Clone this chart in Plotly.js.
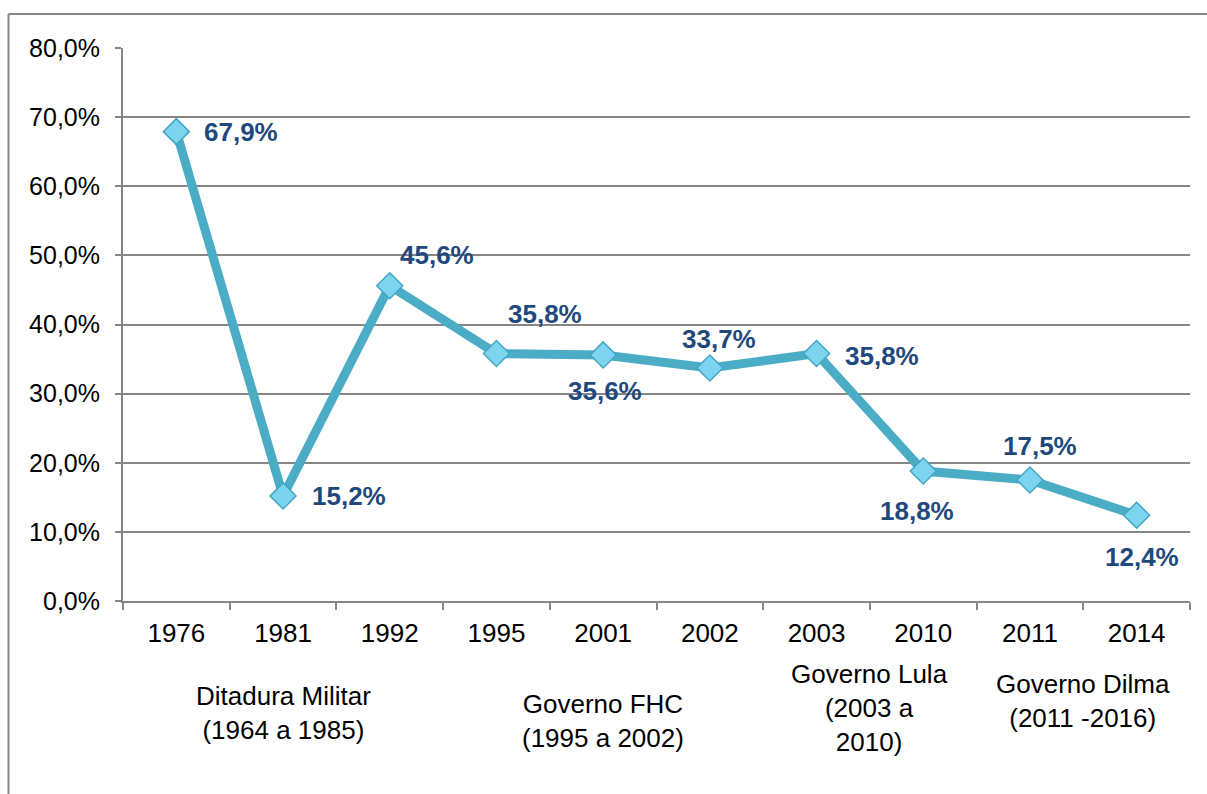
<!DOCTYPE html>
<html>
<head>
<meta charset="utf-8">
<script src="https://cdn.plot.ly/plotly-3.0.1.min.js"></script>
<style>html,body{margin:0;padding:0;background:#fff;}#chart{width:1207px;height:794px;}</style>
</head>
<body>
<div id="chart"></div>
<script>
// Data
const years = ["1976", "1981", "1992", "1995", "2001", "2002", "2003", "2010", "2011", "2014"];
const values = [67.9, 15.2, 45.6, 35.8, 35.6, 33.7, 35.8, 18.8, 17.5, 12.4];
const yTicks = [0, 10, 20, 30, 40, 50, 60, 70, 80];
const yTickLabels = ["0,0%", "10,0%", "20,0%", "30,0%", "40,0%", "50,0%", "60,0%", "70,0%", "80,0%"];
const groupLabels = ["Ditadura Militar<br>(1964 a 1985)", "Governo FHC<br>(1995 a 2002)", "Governo Lula<br>(2003 a<br>2010)", "Governo Dilma<br>(2011 -2016)"];
const groupCenters = [1, 4, 6.5, 8.5]; // category index positions

// Styling (label offsets in pixels)
const labelShiftX = [65, 66, 47, 49, 2, 9, 65, -6, 10, 5];
const labelShiftY = [0, 0, 31, 40, -36, 29, -2, -40, 34, -42];
const groupY = [-0.2025, -0.217, -0.1935, -0.18];

const fmt = v => v.toFixed(1).replace('.', ',') + '%';
const gray = '#868686';

const trace = {
  x: years,
  y: values,
  type: 'scatter',
  mode: 'lines+markers',
  line: {color: '#4BACC6', width: 9},
  marker: {symbol: 'diamond', size: 20, color: '#7DD4EF', line: {color: '#43A5C4', width: 1.5}},
  hoverinfo: 'x+y'
};

const annotations = [];
years.forEach((yr, i) => {
  annotations.push({
    x: i, y: values[i], xref: 'x', yref: 'y',
    text: '<b>' + fmt(values[i]) + '</b>',
    showarrow: false, xshift: labelShiftX[i], yshift: labelShiftY[i],
    font: {family: 'Liberation Sans, Arial, sans-serif', size: 26, color: '#1F497D'}
  });
});
groupLabels.forEach((t, i) => {
  annotations.push({
    x: groupCenters[i], y: groupY[i], xref: 'x', yref: 'paper',
    text: t, showarrow: false, align: 'center', yanchor: 'middle',
    font: {family: 'Liberation Sans, Arial, sans-serif', size: 26, color: '#000'}
  });
});

const layout = {
  width: 1207, height: 794,
  margin: {l: 123, r: 17, t: 48, b: 193},
  paper_bgcolor: '#fff', plot_bgcolor: '#fff',
  showlegend: false,
  font: {family: 'Liberation Sans, Arial, sans-serif', size: 25, color: '#000'},
  xaxis: {
    type: 'category', range: [-0.5, 9.5],
    showline: true, linecolor: gray, linewidth: 2,
    ticks: 'outside', tickson: 'boundaries', ticklen: 7, tickcolor: gray, tickwidth: 2,
    showgrid: false, zeroline: false,
    tickfont: {size: 26, color: '#000'}, ticklabelstandoff: 8
  },
  yaxis: {
    range: [0, 80], tickmode: 'array', tickvals: yTicks, ticktext: yTickLabels,
    showline: true, linecolor: gray, linewidth: 2,
    ticks: 'outside', ticklen: 6, tickcolor: gray, tickwidth: 2,
    showgrid: true, gridcolor: gray, gridwidth: 2, zeroline: false,
    tickfont: {size: 25, color: '#000'}, ticklabelstandoff: 10
  },
  annotations: annotations,
  shapes: [
    {type: 'line', xref: 'paper', yref: 'paper', x0: (8.5-123)/1067, x1: (1207-123)/1067, y0: 1+(48-14)/553, y1: 1+(48-14)/553, line: {color: gray, width: 2}},
    {type: 'line', xref: 'paper', yref: 'paper', x0: (8.5-123)/1067, x1: (8.5-123)/1067, y0: 1+(48-14)/553, y1: -(794-601)/553, line: {color: gray, width: 2}}
  ]
};

Plotly.newPlot('chart', [trace], layout, {displayModeBar: false, staticPlot: true});
</script>
</body>
</html>
